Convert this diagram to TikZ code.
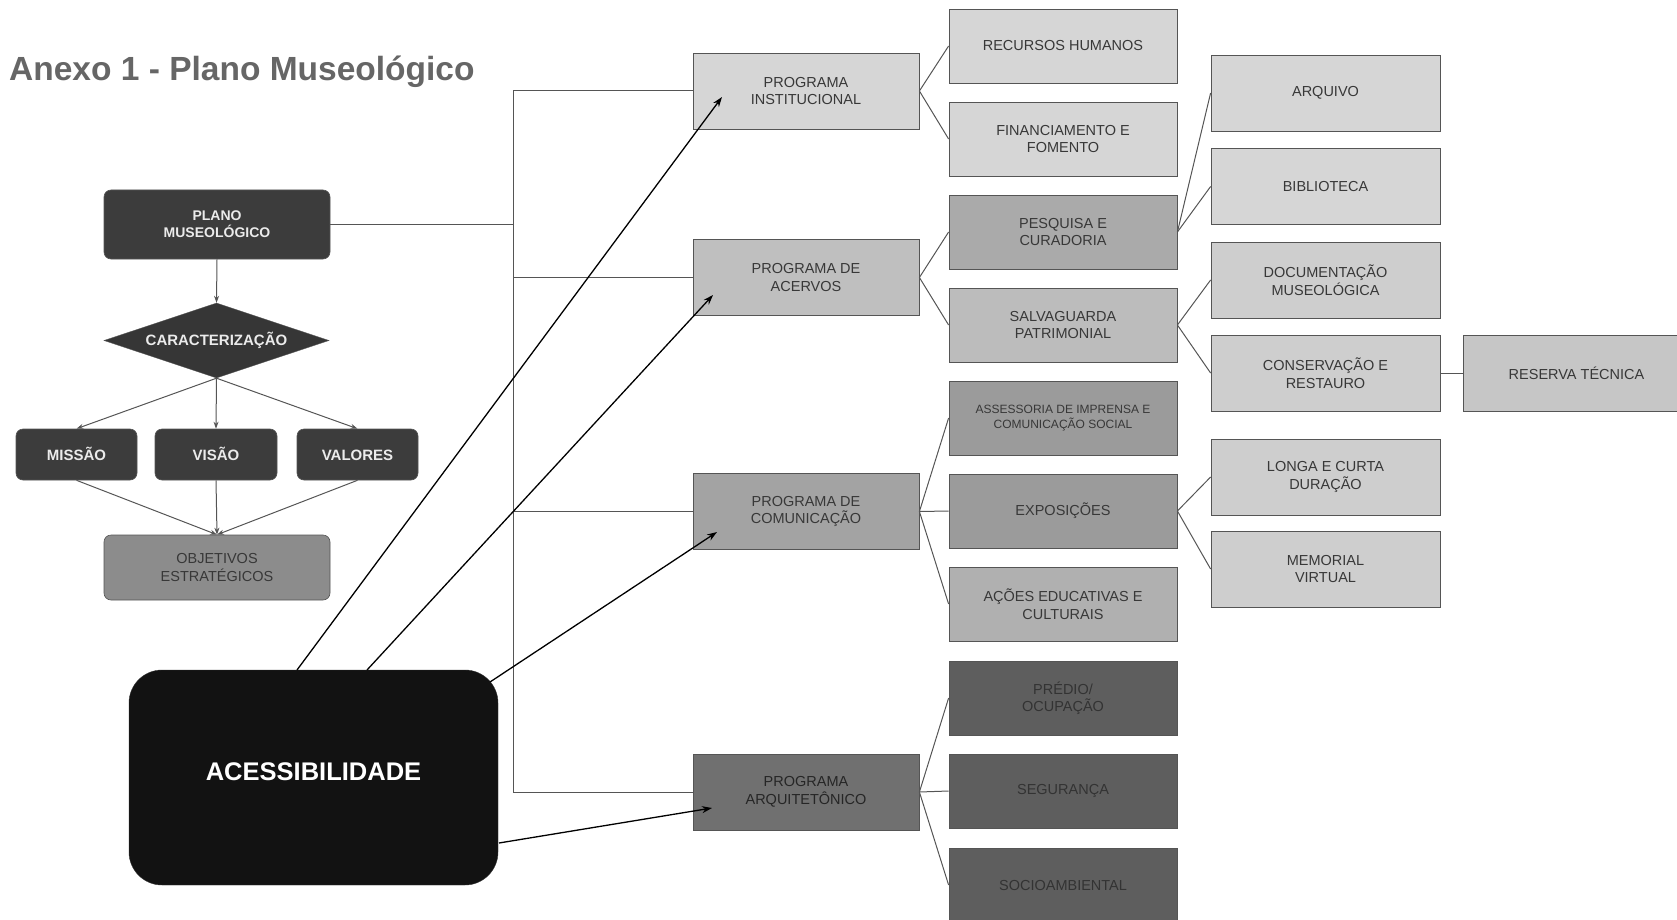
\documentclass[tikz,border=0pt]{standalone}
\usepackage{fontspec}
\setmainfont{Liberation Sans}
\usetikzlibrary{shapes.geometric,arrows.meta,calc}
\definecolor{cLight}{HTML}{D6D6D6}
\definecolor{cLight2}{HTML}{CECECE}
\definecolor{cAcerv}{HTML}{BFBFBF}
\definecolor{cPesq}{HTML}{AAAAAA}
\definecolor{cSalv}{HTML}{BCBCBC}
\definecolor{cCom}{HTML}{A3A3A3}
\definecolor{cExp}{HTML}{9B9B9B}
\definecolor{cAcoes}{HTML}{B0B0B0}
\definecolor{cArq}{HTML}{707070}
\definecolor{cDark}{HTML}{5E5E5E}
\definecolor{cRes}{HTML}{C6C6C6}
\definecolor{cTxt}{HTML}{383838}
\definecolor{cLine}{HTML}{555555}
\definecolor{cLeft}{HTML}{3C3C3C}
\definecolor{cObj}{HTML}{8C8C8C}
\definecolor{cTitle}{HTML}{666666}
\tikzset{
  box/.style={draw=cLine, line width=0.8pt, rectangle, align=center, text=cTxt, inner sep=2pt,
    font=\fontsize{14.5}{17.5}\selectfont},
  pbox/.style={box, minimum width=226pt, minimum height=76pt},
  sbox/.style={box, minimum width=228pt, minimum height=74pt},
  tbox/.style={box, minimum width=229pt, minimum height=76pt},
  lbox/.style={draw=cLine, line width=0.6pt, rounded corners=7pt, align=center, inner sep=2pt},
  mbox/.style={lbox, fill=cLeft, text=white!92!black, minimum width=121pt, minimum height=51pt,
    text height=11pt, text depth=0pt, font=\bfseries\fontsize{15}{18}\selectfont},
  conn/.style={draw=cLine, line width=1pt},
  harrow/.style={draw=black, line width=1.3pt, -{Stealth[length=10pt,width=7pt]}},
  sarrow/.style={draw=cLine, line width=1pt, -{Stealth[length=7pt,width=5pt]}}
}
\begin{document}
\begin{tikzpicture}[x=1pt,y=-1pt]
\useasboundingbox (0,0) rectangle (1677,920);

% title
\node[anchor=base west, text=cTitle, font=\bfseries\fontsize{33.5}{38}\selectfont, inner sep=0] (title) at (9,81) {Anexo 1 - Plano Museológico};

% left column
\node[lbox, fill=cLeft, text=white!92!black, minimum width=226pt, minimum height=69pt,
  font=\bfseries\fontsize{14}{17}\selectfont] (plano) at (217,224.5) {PLANO\\MUSEOLÓGICO};
\node[diamond, aspect=3, draw=cLine, fill=cLeft!90!black, text=white!92!black, minimum width=225pt, minimum height=75pt, inner sep=0pt,
  font=\bfseries\fontsize{15}{18}\selectfont] (car) at (216.5,340.5) {CARACTERIZAÇÃO};
\node[mbox] (missao) at (76.5,454.5) {MISSÃO};
\node[mbox, minimum width=122pt] (visao) at (216,454.5) {VISÃO};
\node[mbox] (valores) at (357.5,454.5) {VALORES};
\node[lbox, fill=cObj, text=cTxt, minimum width=226pt, minimum height=65pt,
  font=\fontsize{14.5}{17.5}\selectfont] (obj) at (217,567.5) {OBJETIVOS\\ESTRATÉGICOS};
\node[draw=black!80, fill=black!93, rounded corners=33pt, minimum width=369pt, minimum height=215pt] (acc) at (313.5,777.5) {};
\node[text=white, font=\bfseries\fontsize{25.5}{30}\selectfont, inner sep=0pt] (acctext) at ($(acc.center)+(0,-6)$) {ACESSIBILIDADE};

% programs
\node[pbox, fill=cLight] (pi) at (806,91) {PROGRAMA\\INSTITUCIONAL};
\node[pbox, fill=cAcerv] (pa) at (806,277.5) {PROGRAMA DE\\ACERVOS};
\node[pbox, fill=cCom] (pc) at (806,511.5) {PROGRAMA DE\\COMUNICAÇÃO};
\node[pbox, fill=cArq, text=black!85] (pr) at (806,792) {PROGRAMA\\ARQUITETÔNICO};

% column 2
\node[sbox, fill=cLight] (rh) at (1063,46) {RECURSOS HUMANOS};
\node[sbox, fill=cLight] (ff) at (1063,139) {FINANCIAMENTO E\\FOMENTO};
\node[sbox, fill=cPesq] (pe) at (1063,232) {PESQUISA E\\CURADORIA};
\node[sbox, fill=cSalv] (sa) at (1063,325) {SALVAGUARDA\\PATRIMONIAL};
\node[sbox, fill=cExp, font=\fontsize{12}{15}\selectfont] (as) at (1063,418) {ASSESSORIA DE IMPRENSA E\\COMUNICAÇÃO SOCIAL};
\node[sbox, fill=cExp] (ex) at (1063,511) {EXPOSIÇÕES};
\node[sbox, fill=cAcoes] (ac) at (1063,604) {AÇÕES EDUCATIVAS E\\CULTURAIS};
\node[sbox, fill=cDark, text=black!80] (pr1) at (1063,698) {PRÉDIO/\\OCUPAÇÃO};
\node[sbox, fill=cDark, text=black!80] (pr2) at (1063,791) {SEGURANÇA};
\node[sbox, fill=cDark, text=black!80] (pr3) at (1063,885) {SOCIOAMBIENTAL};

% column 3
\node[tbox, fill=cLight] (arq) at (1325.5,93) {ARQUIVO};
\node[tbox, fill=cLight] (bib) at (1325.5,186.5) {BIBLIOTECA};
\node[tbox, fill=cLight2] (doc) at (1325.5,280) {DOCUMENTAÇÃO\\MUSEOLÓGICA};
\node[tbox, fill=cLight2] (cons) at (1325.5,373) {CONSERVAÇÃO E\\RESTAURO};
\node[tbox, fill=cLight2] (lon) at (1325.5,477) {LONGA E CURTA\\DURAÇÃO};
\node[tbox, fill=cLight2] (mem) at (1325.5,569) {MEMORIAL\\VIRTUAL};
\node[box, fill=cRes, minimum width=227pt, minimum height=76pt] (res) at (1576.5,373) {RESERVA TÉCNICA};

% left flow arrows
\draw[sarrow] (plano.south) -- (car.north);
\draw[sarrow] (car.south) -- (missao.north);
\draw[sarrow] (car.south) -- (visao.north);
\draw[sarrow] (car.south) -- (valores.north);
\draw[sarrow] (missao.south) -- (obj.north);
\draw[sarrow] (visao.south) -- (obj.north);
\draw[sarrow] (valores.south) -- (obj.north);

% bus
\coordinate (bustop) at (513,91);
\coordinate (busbot) at (513,792);
\draw[conn] (plano.east) -- (plano.east -| bustop);
\draw[conn] (pi.west) -- (bustop) -- (busbot) -- (pr.west);
\draw[conn] (pa.west) -- (pa.west -| bustop);
\draw[conn] (pc.west) -- (pc.west -| bustop);

% fans
\draw[conn] (pi.east) -- (rh.west);
\draw[conn] (pi.east) -- (ff.west);
\draw[conn] (pa.east) -- (pe.west);
\draw[conn] (pa.east) -- (sa.west);
\draw[conn] (pc.east) -- (as.west);
\draw[conn] (pc.east) -- (ex.west);
\draw[conn] (pc.east) -- (ac.west);
\draw[conn] (pr.east) -- (pr1.west);
\draw[conn] (pr.east) -- (pr2.west);
\draw[conn] (pr.east) -- (pr3.west);
\draw[conn] (pe.east) -- (arq.west);
\draw[conn] (pe.east) -- (bib.west);
\draw[conn] (sa.east) -- (doc.west);
\draw[conn] (sa.east) -- (cons.west);
\draw[conn] (ex.east) -- (lon.west);
\draw[conn] (ex.east) -- (mem.west);
\draw[conn] (cons.east) -- (res.west);

% accessibility arrows
\coordinate (s1) at (297,670);
\coordinate (s2) at (367,670);
\coordinate (s3) at (490,682);
\coordinate (s4) at (499,843);
\coordinate (t1) at (722,97);
\coordinate (t2) at (713,295);
\coordinate (t3) at (717,532);
\coordinate (t4) at (712,808);
\draw[harrow] (s1) -- (t1);
\draw[harrow] (s2) -- (t2);
\draw[harrow] (s3) -- (t3);
\draw[harrow] (s4) -- (t4);
\end{tikzpicture}
\end{document}
